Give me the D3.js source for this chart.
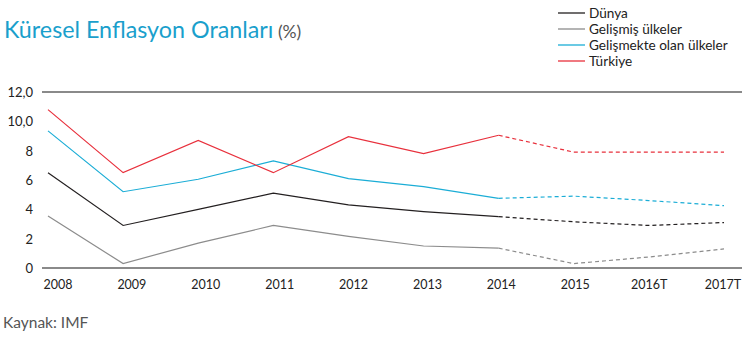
<!DOCTYPE html>
<meta charset="utf-8">
<style>
    body { margin: 0; background: #fff; }
    text { font-family: Lato, "Open Sans", sans-serif; }
</style>
<svg width="749" height="339"></svg>
<script src="https://d3js.org/d3.v7.min.js"></script>
<script>

    var years = ["2008", "2009", "2010", "2011", "2012", "2013", "2014", "2015", "2016T", "2017T"];
    var dunya = [6.5, 2.9, 4.0, 5.1, 4.3, 3.85, 3.5, 3.15, 2.9, 3.1];
    var gelismis = [3.55, 0.3, 1.7, 2.9, 2.15, 1.5, 1.35, 0.3, 0.75, 1.3];
    var gelismekte = [9.35, 5.2, 6.05, 7.3, 6.1, 5.55, 4.75, 4.9, 4.6, 4.25];
    var turkiye = [10.8, 6.5, 8.7, 6.5, 8.95, 7.8, 9.05, 7.9, 7.9, 7.9];
    var yTicks = [0, 2, 4, 6, 8, 10, 12];
    var lastActual = 6; // 2014 index, after it dashed

    var series = [
        {name: "Dünya", values: dunya, color: "#231f20"},
        {name: "Gelişmiş ülkeler", values: gelismis, color: "#8c8c8c"},
        {name: "Gelişmekte olan ülkeler", values: gelismekte, color: "#1badd6"},
        {name: "Türkiye", values: turkiye, color: "#e8303c"}
    ];

    var svg = d3.select("svg");

    var x = d3.scalePoint().domain(years).range([48, 724]);
    var xLabel = d3.scalePoint().domain(years).range([58, 723]);
    var y = d3.scaleLinear().domain([0, 12]).range([268, 92]);

    // title
    var title = svg.append("text").attr("x", 4).attr("y", 38);
    title.append("tspan").text("Küresel Enflasyon Oranları")
            .attr("fill", "#1a9fcc").attr("font-size", 23.3);
    title.append("tspan").text(" (%)")
            .attr("fill", "#555").attr("font-size", 17.5);

    // top and bottom rules
    svg.selectAll("line.rule")
            .data([0, 12])
            .enter().append("line")
            .attr("class", "rule")
            .attr("x1", 42).attr("x2", 742)
            .attr("y1", function(d) { return y(d); })
            .attr("y2", function(d) { return y(d); })
            .attr("stroke", "#8a8a8a")
            .attr("stroke-width", 2);

    svg.selectAll("text.ytick")
            .data(yTicks)
            .enter().append("text")
            .attr("class", "ytick")
            .attr("x", 33)
            .attr("y", function(d) { return y(d) + 5; })
            .attr("text-anchor", "end")
            .attr("font-size", 13)
            .attr("fill", "#222")
            .text(function(d) { return d >= 10 ? d + ",0" : d; });

    svg.selectAll("text.xtick")
            .data(years)
            .enter().append("text")
            .attr("class", "xtick")
            .attr("x", function(d) { return xLabel(d); })
            .attr("y", 289)
            .attr("text-anchor", "middle")
            .attr("font-size", 12.5)
            .attr("fill", "#222")
            .text(function(d) { return d; });

    var line = d3.line()
            .x(function(d) { return x(d.year); })
            .y(function(d) { return y(d.v); });

    series.forEach(function(s) {
        var pts = s.values.map(function(v, i) { return {year: years[i], v: v}; });
        svg.append("path")
                .datum(pts.slice(0, lastActual + 1))
                .attr("d", line)
                .attr("fill", "none")
                .attr("stroke", s.color)
                .attr("stroke-width", 1.2);
        svg.append("path")
                .datum(pts.slice(lastActual))
                .attr("d", line)
                .attr("fill", "none")
                .attr("stroke", s.color)
                .attr("stroke-width", 1.2)
                .attr("stroke-dasharray", "4,3");
    });

    // legend
    var legend = svg.selectAll("g.legend")
            .data(series)
            .enter().append("g")
            .attr("class", "legend")
            .attr("transform", function(d, i) { return "translate(558," + (13 + i * 16) + ")"; });

    legend.append("line")
            .attr("x1", 0).attr("x2", 27)
            .attr("stroke", function(d) { return d.color; })
            .attr("stroke-width", 1.3);

    legend.append("text")
            .attr("x", 31)
            .attr("y", 5)
            .attr("font-size", 13.6)
            .attr("fill", "#222")
            .text(function(d) { return d.name; });

    svg.append("text")
            .attr("x", 3)
            .attr("y", 328)
            .attr("font-size", 15.5)
            .attr("fill", "#555")
            .text("Kaynak: IMF");

</script>
